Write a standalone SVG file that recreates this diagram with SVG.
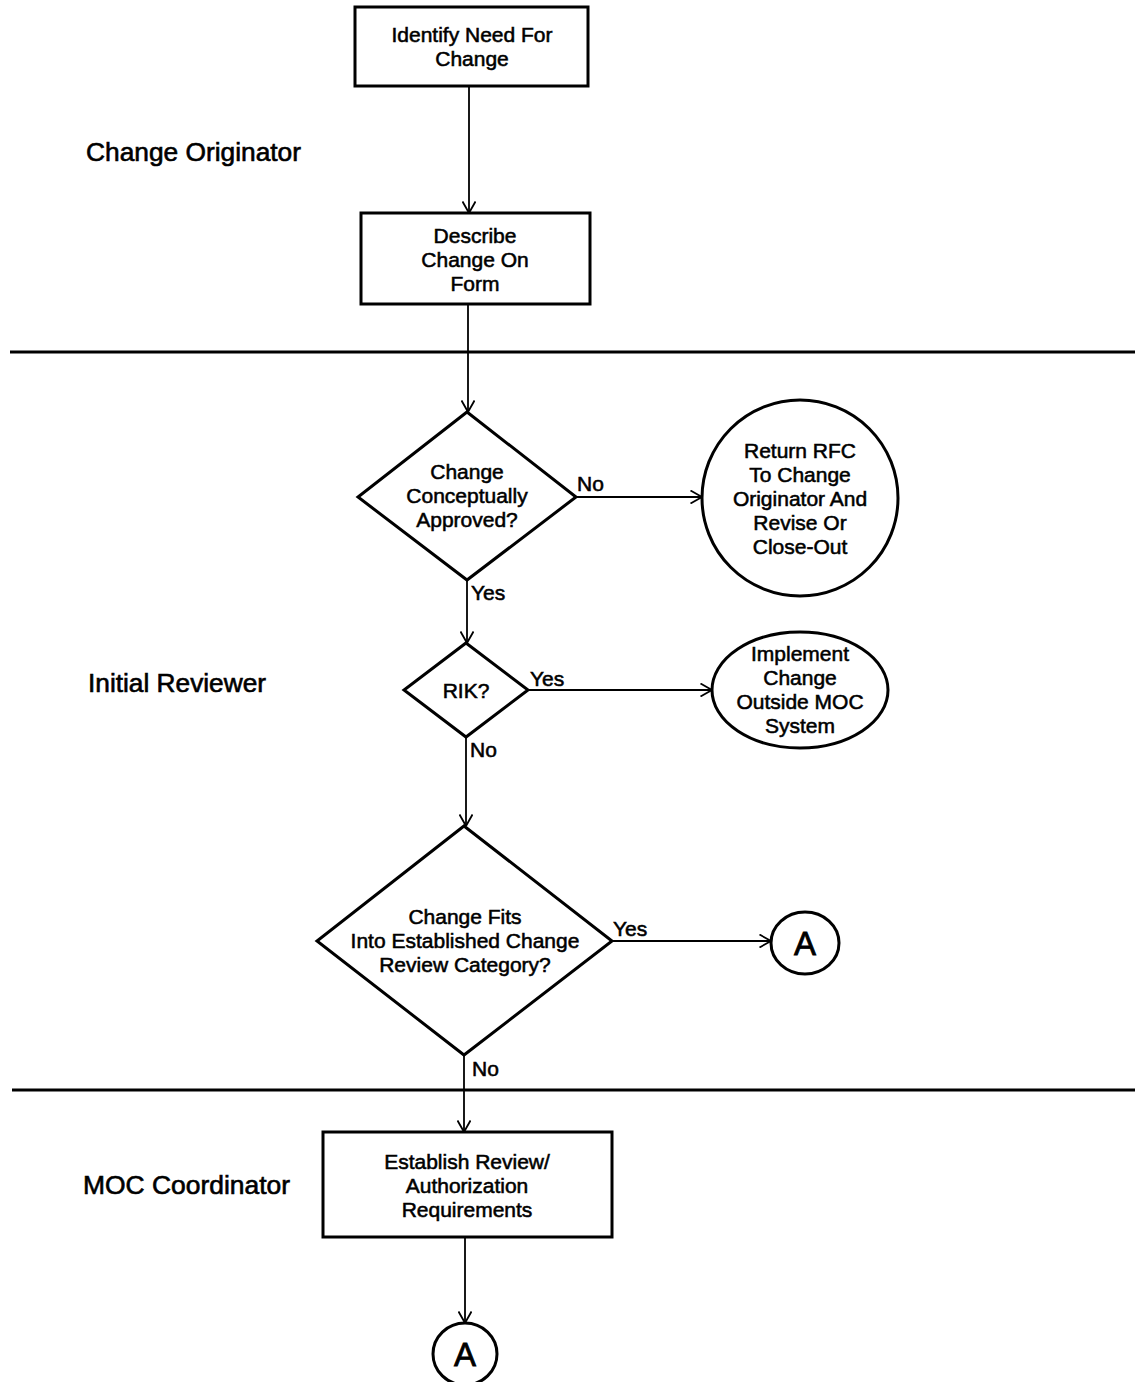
<svg xmlns="http://www.w3.org/2000/svg" width="1135" height="1382" viewBox="0 0 1135 1382">
  <style>
    .shape { fill: #ffffff; stroke: #000000; stroke-width: 3; }
    .lane { stroke: #000000; stroke-width: 3; }
    .conn { fill: none; stroke: #000000; stroke-width: 1.8; marker-end: url(#arrow); }
    text { font-family: "Liberation Sans", Arial, sans-serif; fill: #000000; stroke: #000000; stroke-width: 0.55; }
    .t { font-size: 21px; text-anchor: middle; }
    .lbl { font-size: 21px; }
    .laneText { font-size: 25px; stroke-width: 0.6; }
    .big { font-size: 33px; text-anchor: middle; stroke-width: 0.8; }
  </style>
  <defs>
    <marker id="arrow" viewBox="0 0 12 14" refX="12" refY="7" markerWidth="12" markerHeight="14" markerUnits="userSpaceOnUse" orient="auto">
      <path d="M0.5,0.5 L12,7 L0.5,13.5" fill="none" stroke="#000000" stroke-width="1.8"/>
    </marker>
  </defs>

  <rect width="1135" height="1382" fill="#ffffff"/>

  <!-- swimlane separators and titles -->
  <g id="lanes">
    <line class="lane" x1="10" y1="352" x2="1135" y2="352"/>
    <line class="lane" x1="12" y1="1090" x2="1135" y2="1090"/>
    <text class="laneText" x="86" y="161" textLength="215" lengthAdjust="spacingAndGlyphs">Change Originator</text>
    <text class="laneText" x="88" y="692" textLength="178" lengthAdjust="spacingAndGlyphs">Initial Reviewer</text>
    <text class="laneText" x="83" y="1194" textLength="207" lengthAdjust="spacingAndGlyphs">MOC Coordinator</text>
  </g>

  <!-- connectors -->
  <g id="connectors">
    <line class="conn" x1="469" y1="86" x2="469" y2="213"/>
    <line class="conn" x1="468" y1="304" x2="468" y2="412"/>
    <line class="conn" x1="576" y1="497" x2="702" y2="497"/>
    <line class="conn" x1="467" y1="580" x2="467" y2="643"/>
    <line class="conn" x1="528" y1="690" x2="712" y2="690"/>
    <line class="conn" x1="466" y1="737" x2="466" y2="826"/>
    <line class="conn" x1="612" y1="941" x2="771" y2="941"/>
    <line class="conn" x1="464" y1="1055" x2="464" y2="1132"/>
    <line class="conn" x1="465" y1="1237" x2="465" y2="1323"/>
    <text class="lbl" x="577" y="491">No</text>
    <text class="lbl" x="471" y="600">Yes</text>
    <text class="lbl" x="530" y="686">Yes</text>
    <text class="lbl" x="470" y="757">No</text>
    <text class="lbl" x="613" y="936">Yes</text>
    <text class="lbl" x="472" y="1076">No</text>
  </g>

  <g id="identify-need">
    <rect class="shape" x="355" y="7" width="233" height="79"/>
    <text class="t" x="472" y="42">Identify Need For</text>
    <text class="t" x="472" y="66">Change</text>
  </g>

  <g id="describe-change">
    <rect class="shape" x="361" y="213" width="229" height="91"/>
    <text class="t" x="475" y="243">Describe</text>
    <text class="t" x="475" y="267">Change On</text>
    <text class="t" x="475" y="291">Form</text>
  </g>

  <g id="conceptually-approved">
    <polygon class="shape" points="467,412 576,497 467,580 358,497"/>
    <text class="t" x="467" y="479">Change</text>
    <text class="t" x="467" y="503">Conceptually</text>
    <text class="t" x="467" y="527">Approved?</text>
  </g>

  <g id="return-rfc">
    <circle class="shape" cx="800" cy="498" r="98"/>
    <text class="t" x="800" y="458">Return RFC</text>
    <text class="t" x="800" y="482">To Change</text>
    <text class="t" x="800" y="506">Originator And</text>
    <text class="t" x="800" y="530">Revise Or</text>
    <text class="t" x="800" y="554">Close-Out</text>
  </g>

  <g id="rik">
    <polygon class="shape" points="466,643 528,690 466,737 404,690"/>
    <text class="t" x="466" y="698">RIK?</text>
  </g>

  <g id="implement-outside">
    <ellipse class="shape" cx="800" cy="690" rx="88" ry="58"/>
    <text class="t" x="800" y="661">Implement</text>
    <text class="t" x="800" y="685">Change</text>
    <text class="t" x="800" y="709">Outside MOC</text>
    <text class="t" x="800" y="733">System</text>
  </g>

  <g id="fits-category">
    <polygon class="shape" points="464,826 612,941 464,1055 317,941"/>
    <text class="t" x="465" y="924">Change Fits</text>
    <text class="t" x="465" y="948">Into Established Change</text>
    <text class="t" x="465" y="972">Review Category?</text>
  </g>

  <g id="connector-a-right">
    <ellipse class="shape" cx="805" cy="943" rx="34" ry="31"/>
    <text class="big" x="805" y="955">A</text>
  </g>

  <g id="establish-review">
    <rect class="shape" x="323" y="1132" width="289" height="105"/>
    <text class="t" x="467" y="1169">Establish Review/</text>
    <text class="t" x="467" y="1193">Authorization</text>
    <text class="t" x="467" y="1217">Requirements</text>
  </g>

  <g id="connector-a-bottom">
    <ellipse class="shape" cx="465" cy="1354" rx="32" ry="31"/>
    <text class="big" x="465" y="1366">A</text>
  </g>
</svg>
